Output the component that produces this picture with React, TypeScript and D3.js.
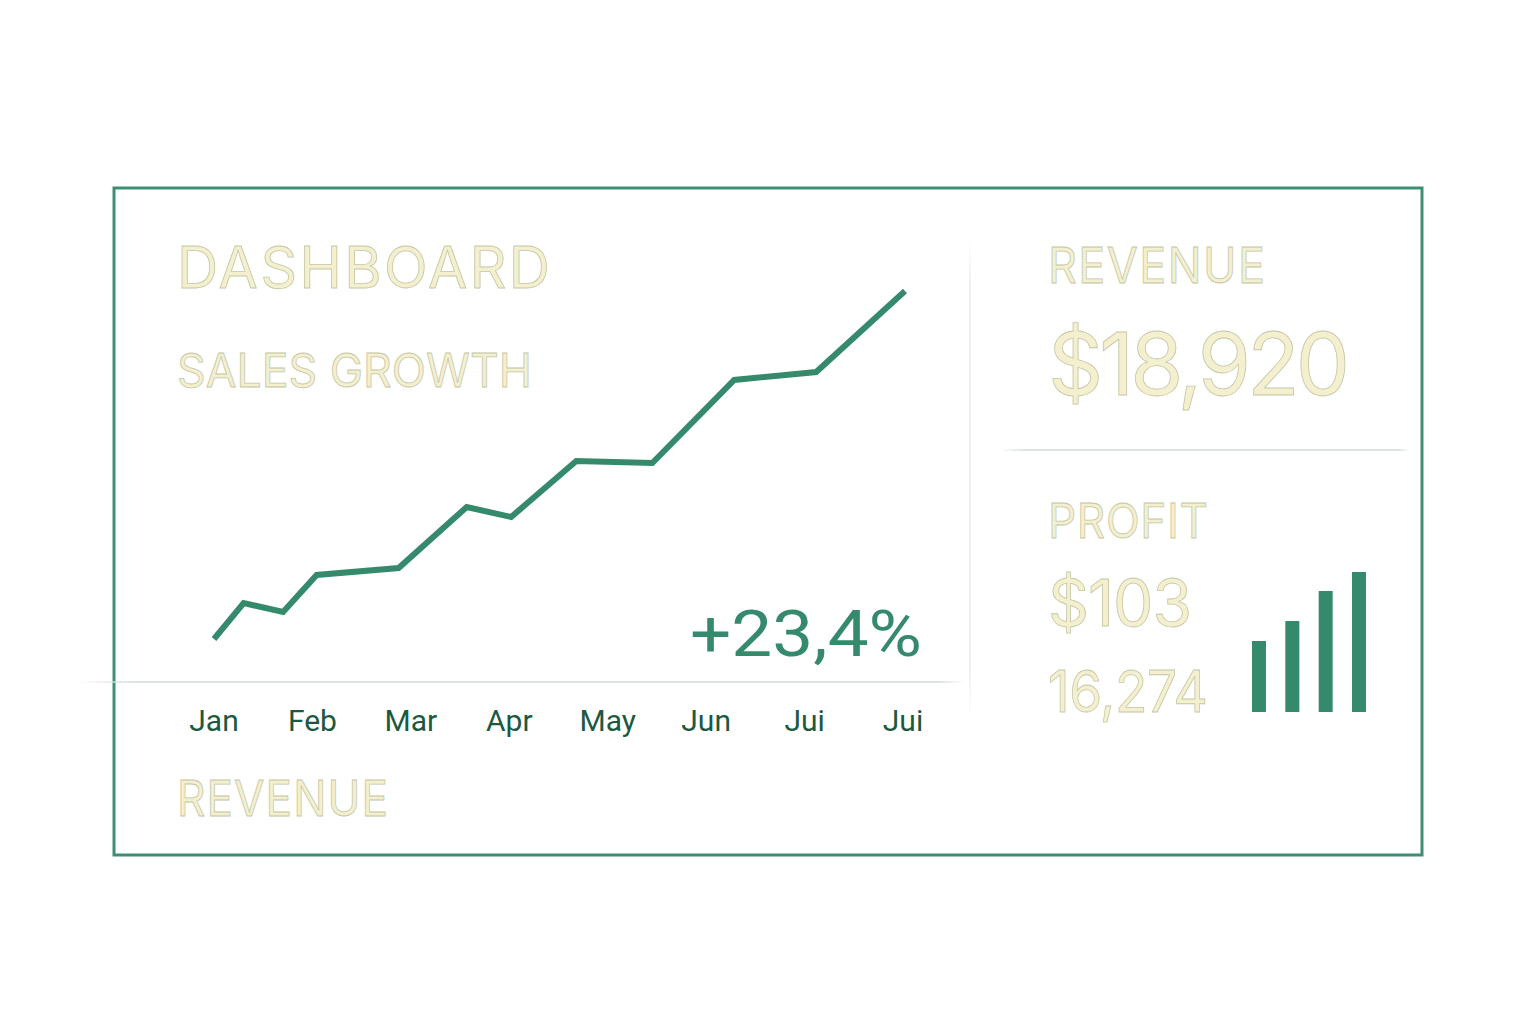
import React from "react";
import * as d3 from "d3";

const months = ["Jan", "Feb", "Mar", "Apr", "May", "Jun", "Jui", "Jui"];
// sales growth series: x in month-index units, y in sales units
const salesX = [0, 0.3, 0.7, 1.04, 1.87, 2.56, 3.01, 3.67, 4.44, 5.27, 6.1, 7.0];
const salesY = [41, 77, 68, 105, 112, 173, 163, 219, 217, 300, 308, 389];
const profitBars = [71, 91, 121, 140];
const profitBarKeys = ["Q1", "Q2", "Q3", "Q4"];

const GREEN = "#368a6c";
const DARK = "#1d5841";
const PALE = "#f4efcf";
const PALE_STROKE = "#c3c7a4";

export default function App() {
  const W = 1536, H = 1024;
  const x = d3.scaleLinear().domain([0, 7]).range([214, 905]);
  const y = d3.scaleLinear().domain([0, 400]).range([680, 280]);
  const pts = salesX.map((v, i) => [v, salesY[i]] as [number, number]);
  const line = d3.line<[number, number]>().x(d => x(d[0])).y(d => y(d[1]));
  const monthX = d3.scalePoint<number>().domain(months.map((_, i) => i)).range([214, 903]);

  const bx = d3.scaleBand().domain(profitBarKeys).range([1252, 1366]).paddingInner(0.58).paddingOuter(0);
  const by = d3.scaleLinear().domain([0, 140]).range([712, 572]);

  const paleText = (txt: string, px: number, py: number, size: number, len: number, sq = 1) => (
    <text transform={`translate(${px},${py}) scale(${sq},1)`} x={0} y={0} fontSize={size}
      fontFamily="Inter, 'Noto Sans', sans-serif" fontWeight={400}
      fill={PALE} stroke={PALE_STROKE} strokeWidth={0.8}
      textLength={len / sq} lengthAdjust="spacing">{txt}</text>
  );

  return (
    <svg width={W} height={H} style={{ position: "absolute", left: 0, top: 0 }}>
      <defs>
        <linearGradient id="baseFade" x1="0" x2="1" y1="0" y2="0">
          <stop offset="0" stopColor="#dbe4df" stopOpacity={0} />
          <stop offset="0.06" stopColor="#dbe4df" stopOpacity={1} />
          <stop offset="0.97" stopColor="#dbe4df" stopOpacity={1} />
          <stop offset="1" stopColor="#dbe4df" stopOpacity={0} />
        </linearGradient>
        <linearGradient id="vFade" x1="0" x2="0" y1="0" y2="1">
          <stop offset="0" stopColor="#eef0ee" stopOpacity={0} />
          <stop offset="0.1" stopColor="#eef0ee" stopOpacity={1} />
          <stop offset="0.9" stopColor="#eef0ee" stopOpacity={1} />
          <stop offset="1" stopColor="#eef0ee" stopOpacity={0} />
        </linearGradient>
      </defs>
      <rect x={0} y={0} width={W} height={H} fill="#ffffff" />
      <rect x={114} y={188} width={1308} height={667} fill="none" stroke="#3e8f72" strokeWidth={3} />

      {/* dividers */}
      <rect x={80} y={681} width={885} height={2} fill="url(#baseFade)" />
      <rect x={969} y={238} width={2} height={480} fill="url(#vFade)" />
      <rect x={1000} y={449} width={410} height={2} fill="url(#baseFade)" />

      {/* titles */}
      {paleText("DASHBOARD", 177, 288, 57, 373, 1)}
      {paleText("SALES GROWTH", 177, 387, 47, 355, 0.95)}
      {paleText("REVENUE", 177, 816, 49, 211, 0.9)}
      {paleText("REVENUE", 1048, 283, 50, 217, 0.9)}
      {paleText("$18,920", 1048, 395, 86, 302, 1)}
      {paleText("PROFIT", 1048, 538, 48, 160, 0.92)}
      {paleText("$103", 1048, 626, 64, 144, 1)}
      {paleText("16,274", 1048, 712, 58, 160, 0.92)}

      {/* line */}
      <path d={line(pts) || ""} fill="none" stroke={GREEN} strokeWidth={6} strokeLinejoin="miter" />

      <text x={922} y={656} textAnchor="end" fontSize={64} fontFamily="Roboto, sans-serif" fill={GREEN}
        textLength={232} lengthAdjust="spacingAndGlyphs">+23,4%</text>

      {months.map((m, i) => (
        <text key={i} x={monthX(i)} y={731} textAnchor="middle" fontSize={30} fontFamily="Roboto, sans-serif" fill={DARK}>{m}</text>
      ))}

      {profitBars.map((v, i) => (
        <rect key={i} x={bx(profitBarKeys[i])} y={by(v)} width={bx.bandwidth()} height={712 - by(v)} fill={GREEN} />
      ))}
    </svg>
  );
}
